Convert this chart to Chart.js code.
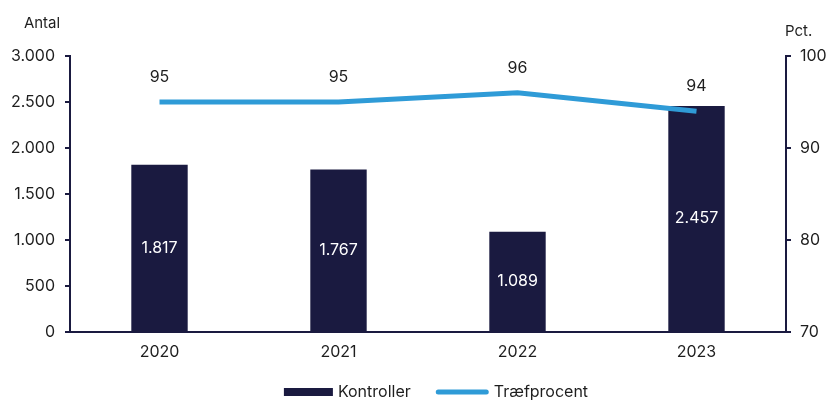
<!DOCTYPE html>
<html lang="da">
  <head>
    <meta charset="UTF-8" />
    <title>Kontroller og træfprocent</title>
    <script src="https://cdn.jsdelivr.net/npm/chart.js"></script>
    <style>
      html, body { margin: 0; padding: 0; background: #fff; }
      #wrap { width: 832px; height: 400px; }
    </style>
  </head>
  <body>
    <div id="wrap"><canvas id="kontrolChart"></canvas></div>
    <script>
      const years = ["2020", "2021", "2022", "2023"];
      const kontroller = [1817, 1767, 1089, 2457];
      const traefprocent = [95, 95, 96, 94];

      const navy = "#1a1a40";
      const blue = "#2f9bd7";
      const textColor = "#1e1e1e";
      const fontFamily = "Inter, 'DejaVu Sans', sans-serif";
      const fontSize = 16;

      // dansk tusindtalsseparator
      function fmt(v) {
        return String(Math.round(v)).replace(/\B(?=(\d{3})+(?!\d))/g, ".");
      }

      const valueLabels = {
        id: "valueLabels",
        afterDatasetsDraw(chart) {
          const ctx = chart.ctx;
          ctx.save();
          ctx.font = fontSize + "px " + fontFamily;
          ctx.textAlign = "center";
          ctx.textBaseline = "middle";
          chart.data.datasets.forEach((ds, i) => {
            const meta = chart.getDatasetMeta(i);
            if (meta.hidden) return;
            meta.data.forEach((el, j) => {
              if (meta.type === "bar") {
                ctx.fillStyle = "#ffffff";
                ctx.fillText(fmt(ds.data[j]), el.x, (el.y + el.base) / 2);
              } else {
                ctx.fillStyle = textColor;
                ctx.fillText(fmt(ds.data[j]), el.x, el.y - 25);
              }
            });
          });
          ctx.restore();
        },
        afterDraw(chart) {
          const ctx = chart.ctx;
          const a = chart.chartArea;
          ctx.save();
          ctx.font = "15px " + fontFamily;
          ctx.fillStyle = textColor;
          ctx.textBaseline = "middle";
          ctx.textAlign = "center";
          ctx.fillText("Antal", a.left - 28, a.top - 33);
          ctx.textAlign = "left";
          ctx.fillText("Pct.", a.right - 1, a.top - 25);

          // legend nederst
          ctx.font = fontSize + "px " + fontFamily;
          const ds = chart.data.datasets;
          const w0 = ctx.measureText(ds[0].label).width;
          const w1 = ctx.measureText(ds[1].label).width;
          const total = 49 + 5 + w0 + 25 + 53 + 5 + w1;
          let x = chart.width / 2 + 20 - total / 2;
          const y = 392;
          ctx.fillStyle = ds[0].backgroundColor;
          ctx.fillRect(x, y - 4, 49, 8);
          x += 54;
          ctx.fillStyle = textColor;
          ctx.fillText(ds[0].label, x, y);
          x += w0 + 25;
          ctx.strokeStyle = ds[1].borderColor;
          ctx.lineWidth = 5;
          ctx.lineCap = "round";
          ctx.beginPath();
          ctx.moveTo(x + 2.5, y);
          ctx.lineTo(x + 50.5, y);
          ctx.stroke();
          x += 58;
          ctx.fillText(ds[1].label, x, y);
          ctx.restore();
        },
      };

      const ctx = document.getElementById("kontrolChart").getContext("2d");

      new Chart(ctx, {
        data: {
          labels: years,
          datasets: [
            {
              type: "bar",
              label: "Kontroller",
              data: kontroller,
              backgroundColor: navy,
              yAxisID: "y",
              barPercentage: 0.315,
              categoryPercentage: 1,
              order: 1,
            },
            {
              type: "line",
              label: "Træfprocent",
              data: traefprocent,
              borderColor: blue,
              backgroundColor: blue,
              borderWidth: 5,
              pointRadius: 0,
              tension: 0,
              yAxisID: "y1",
              order: 0,
            },
          ],
        },
        options: {
          responsive: true,
          maintainAspectRatio: false,
          animation: false,
          layout: { padding: { top: 56, left: 0, right: 0, bottom: 20 } },
          plugins: {
            tooltip: { enabled: false },
            legend: { display: false },
          },
          scales: {
            x: {
              offset: true,
              afterFit(scale) { scale.height = 48; },
              grid: { display: false, drawTicks: false },
              border: { display: true, color: navy, width: 2 },
              ticks: {
                color: textColor,
                font: { family: fontFamily, size: fontSize },
                padding: 11,
              },
            },
            y: {
              position: "left",
              min: 0,
              max: 3000,
              afterFit(scale) { scale.width = 70; },
              grid: { drawOnChartArea: false, tickLength: 5, color: navy, lineWidth: 2 },
              border: { display: true, color: navy, width: 2 },
              ticks: {
                stepSize: 500,
                color: textColor,
                font: { family: fontFamily, size: fontSize },
                padding: 10,
                callback: (v) => fmt(v),
              },
            },
            y1: {
              position: "right",
              min: 70,
              max: 100,
              afterFit(scale) { scale.width = 46; },
              grid: { drawOnChartArea: false, tickLength: 5, color: navy, lineWidth: 2 },
              border: { display: true, color: navy, width: 2 },
              ticks: {
                stepSize: 10,
                color: textColor,
                font: { family: fontFamily, size: fontSize },
                padding: 9,
                callback: (v) => fmt(v),
              },
            },
          },
        },
        plugins: [valueLabels],
      });
    </script>
  </body>
</html>
